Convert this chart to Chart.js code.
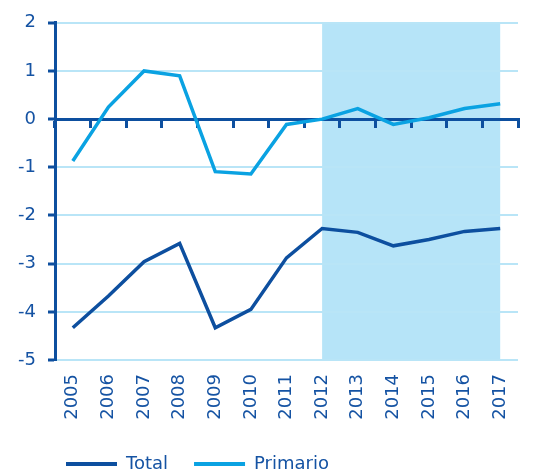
<!DOCTYPE html>
<html>
<head>
<meta charset="utf-8">
<script src="https://cdn.jsdelivr.net/npm/chart.js@4"></script>
<style>
  html, body { margin: 0; padding: 0; background: #ffffff; }
  #wrap { width: 534px; height: 474px; position: relative; }
</style>
</head>
<body>
<div id="wrap"><canvas id="c" width="534" height="474"></canvas></div>
<script>
const years = ['2005','2006','2007','2008','2009','2010','2011','2012','2013','2014','2015','2016','2017'];
const total = [-4.33, -3.67, -2.96, -2.58, -4.33, -3.95, -2.88, -2.27, -2.35, -2.63, -2.50, -2.33, -2.27];
const primario = [-0.87, 0.25, 1.0, 0.9, -1.09, -1.14, -0.11, 0.0, 0.22, -0.11, 0.03, 0.22, 0.32];
const yTicks = [2, 1, 0, -1, -2, -3, -4, -5];
const shadeFrom = '2012';
const shadeTo = '2017';

const DARK = '#0d4f9f';
const LIGHT = '#0aa2e2';
const TEXT = '#1553a3';
const GRID = '#b9e5f7';
const SHADE = '#b6e4f8';

const shadePlugin = {
  id: 'shade',
  beforeDraw(chart) {
    const x = chart.scales.x;
    const a = chart.chartArea;
    const x1 = x.getPixelForValue(years.indexOf(shadeFrom));
    const x2 = x.getPixelForValue(years.indexOf(shadeTo));
    const ctx = chart.ctx;
    ctx.save();
    ctx.fillStyle = SHADE;
    ctx.fillRect(x1, a.top, x2 - x1, a.bottom - a.top);
    ctx.restore();
  },
  afterLayout(chart) {
    const lg = chart.legend;
    if (lg) {
      lg.left = 40;
      lg.top = 429;
    }
  }
};

new Chart(document.getElementById('c'), {
  type: 'line',
  data: {
    labels: years,
    datasets: [
      { label: 'Total', data: total, borderColor: DARK, backgroundColor: DARK, borderWidth: 3.5, pointRadius: 0, tension: 0, fill: false },
      { label: 'Primario', data: primario, borderColor: LIGHT, backgroundColor: LIGHT, borderWidth: 3.5, pointRadius: 0, tension: 0, fill: false }
    ]
  },
  options: {
    responsive: false,
    animation: false,
    layout: { padding: { left: 0, right: 16, top: 10, bottom: 0 } },
    plugins: {
      tooltip: { enabled: false },
      legend: {
        position: 'bottom',
        align: 'start',
        labels: {
          boxWidth: 51,
          boxHeight: 4,
          padding: 26,
          color: TEXT,
          font: { family: 'DejaVu Sans', size: 18 },
          generateLabels(chart) {
            return Chart.defaults.plugins.legend.labels.generateLabels(chart).map(it => {
              it.lineWidth = 0;
              it.fillStyle = it.strokeStyle;
              return it;
            });
          }
        }
      }
    },
    scales: {
      x: {
        type: 'category',
        offset: true,
        grid: { display: false, drawTicks: false },
        border: { display: false },
        ticks: {
          color: TEXT,
          font: { family: 'DejaVu Sans', size: 18 },
          minRotation: 90,
          maxRotation: 90,
          padding: 14,
          autoSkip: false
        },
        afterFit(s) { s.height = 60; s.paddingRight = 0; s.paddingLeft = 0; }
      },
      x0: {
        type: 'category',
        axis: 'x',
        labels: years,
        offset: true,
        position: { y: 0 },
        grid: { offset: true, drawOnChartArea: false, color: DARK, lineWidth: 3, tickLength: 7, tickWidth: 3 },
        border: { display: true, color: DARK, width: 3 },
        ticks: { display: false }
      },
      y: {
        min: -5,
        max: 2,
        afterBuildTicks(s) { s.ticks = yTicks.map(v => ({ value: v })); },
        grid: { color: GRID, lineWidth: 2, tickColor: DARK, tickWidth: 3, tickLength: 7 },
        border: { display: true, color: DARK, width: 3 },
        ticks: {
          color: TEXT,
          font: { family: 'DejaVu Sans', size: 18 },
          padding: 12,
          callback: v => String(v)
        },
        afterFit(s) { s.width = 55; }
      }
    }
  },
  plugins: [shadePlugin]
});
</script>
</body>
</html>
